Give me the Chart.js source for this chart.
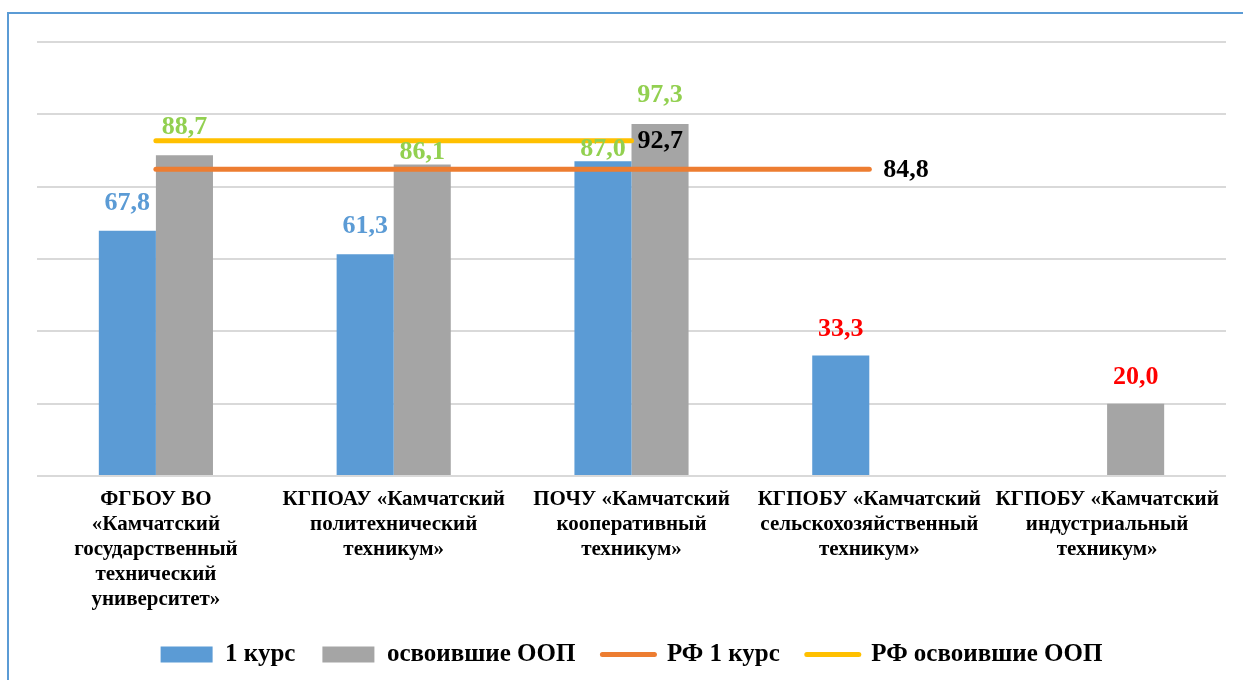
<!DOCTYPE html>
<html>
<head>
<meta charset="utf-8">
<script src="https://cdn.jsdelivr.net/npm/chart.js@4/dist/chart.umd.min.js"></script>
<style>
  html, body { margin: 0; padding: 0; background: #fff; }
  #wrap { position: relative; width: 1243px; height: 680px; overflow: hidden; }
  #frame { position: absolute; left: 7px; top: 12px; width: 1300px; height: 800px;
           border-left: 2px solid #5B9BD5; border-top: 2px solid #5B9BD5; }
  canvas { position: absolute; left: 0; top: 0; }
</style>
</head>
<body>
<div id="wrap">
  <div id="frame"></div>
  <canvas id="chart" width="1243" height="680"></canvas>
</div>
<script>
// ---- данные ----
const categories = [
    ['ФГБОУ ВО', '«Камчатский', 'государственный', 'технический', 'университет»'],
    ['КГПОАУ «Камчатский', 'политехнический', 'техникум»'],
    ['ПОЧУ «Камчатский', 'кооперативный', 'техникум»'],
    ['КГПОБУ «Камчатский', 'сельскохозяйственный', 'техникум»'],
    ['КГПОБУ «Камчатский', 'индустриальный', 'техникум»']
];
const firstYear = [67.8, 61.3, 87.0, 33.3, null];
const mastered = [88.7, 86.1, 97.3, null, 20.0];
const rfFirstYear = [84.8, 84.8, 84.8, 84.8, null];
const rfMastered = [92.7, 92.7, 92.7, null, null];

const FONT = 'Liberation Serif';

// подписи значений (цвет и подъём над столбиком для каждой точки)
const valueLabels = {
    id: 'valueLabels',
    afterDatasetsDraw(chart) {
        const ctx = chart.ctx;
        ctx.save();
        ctx.font = 'bold 26px "' + FONT + '"';
        ctx.textBaseline = 'middle';
        chart.data.datasets.forEach((ds, i) => {
            const meta = chart.getDatasetMeta(i);
            const cfg = ds.labelCfg;
            if (!cfg) return;
            let last = -1;
            ds.data.forEach((v, j) => { if (v != null) last = j; });
            meta.data.forEach((el, j) => {
                const v = ds.data[j];
                if (v == null) return;
                const txt = v.toFixed(1).replace('.', ',');
                if (ds.type === 'line') {
                    if (j !== last) return;
                    ctx.textAlign = 'left';
                    ctx.fillStyle = cfg.color;
                    ctx.fillText(txt, el.x + cfg.dx, el.y + 1);
                } else {
                    ctx.textAlign = 'center';
                    ctx.fillStyle = cfg.colors[j];
                    ctx.fillText(txt, el.x, el.y - cfg.lift[j]);
                }
            });
        });
        ctx.restore();
    }
};

new Chart(document.getElementById('chart'), {
    type: 'bar',
    data: {
        labels: categories,
        datasets: [
            {
                label: '1 курс',
                data: firstYear,
                backgroundColor: '#5B9BD5',
                order: 1,
                labelCfg: {
                    colors: ['#5B9BD5', '#5B9BD5', '#92D050', '#FF0000', '#FF0000'],
                    lift: [28, 28, 12, 26, 26]
                }
            },
            {
                label: 'освоившие ООП',
                data: mastered,
                backgroundColor: '#A5A5A5',
                order: 1,
                labelCfg: {
                    colors: ['#92D050', '#92D050', '#92D050', '#FF0000', '#FF0000'],
                    lift: [28, 12, 29, 26, 26]
                }
            },
            {
                type: 'line',
                label: 'РФ 1 курс',
                data: rfFirstYear,
                borderColor: '#ED7D31',
                backgroundColor: '#ED7D31',
                borderWidth: 5,
                borderCapStyle: 'round',
                pointRadius: 0,
                order: 0,
                labelCfg: { color: '#000', dx: 14 }
            },
            {
                type: 'line',
                label: 'РФ освоившие ООП',
                data: rfMastered,
                borderColor: '#FFC000',
                backgroundColor: '#FFC000',
                borderWidth: 5,
                borderCapStyle: 'round',
                pointRadius: 0,
                order: 0,
                labelCfg: { color: '#000', dx: 6 }
            }
        ]
    },
    options: {
        responsive: false,
        animation: false,
        datasets: {
            bar: { barPercentage: 1, categoryPercentage: 0.48 }
        },
        layout: { padding: { left: 37, right: 17, top: 42, bottom: 3 } },
        scales: {
            x: {
                grid: { display: false },
                border: { display: false },
                ticks: {
                    color: '#000',
                    padding: 3,
                    maxRotation: 0,
                    autoSkip: false,
                    font: { family: FONT, size: 21, weight: 'bold', lineHeight: 1.19 }
                }
            },
            y: {
                min: 0,
                max: 120,
                ticks: { display: false, stepSize: 20 },
                border: { display: false },
                grid: { color: '#D9D9D9', lineWidth: 2, drawTicks: false }
            }
        },
        plugins: {
            tooltip: { enabled: false },
            legend: {
                position: 'bottom',
                labels: {
                    usePointStyle: true,
                    pointStyleWidth: 52,
                    boxHeight: 16,
                    padding: 27,
                    color: '#000',
                    font: { family: FONT, size: 25, weight: 'bold' },
                    generateLabels(chart) {
                        return chart.data.datasets.map((ds, i) => {
                            const isLine = ds.type === 'line';
                            return {
                                text: ds.label,
                                datasetIndex: i,
                                fillStyle: ds.backgroundColor,
                                strokeStyle: isLine ? ds.borderColor : ds.backgroundColor,
                                lineWidth: isLine ? 5 : 0,
                                lineCap: 'round',
                                pointStyle: isLine ? 'line' : 'rect',
                                fontColor: '#000',
                                hidden: false
                            };
                        });
                    }
                }
            }
        }
    },
    plugins: [valueLabels]
});
</script>
</body>
</html>
